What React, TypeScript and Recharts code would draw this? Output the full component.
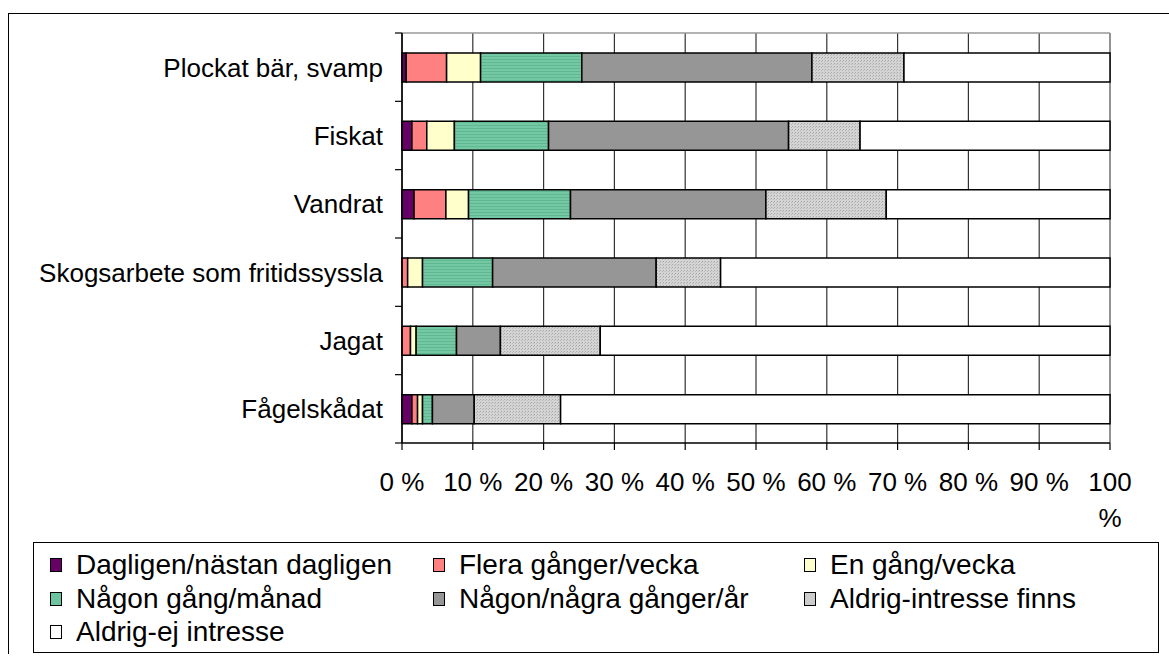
import React from 'react';
import { BarChart, Bar, XAxis, YAxis, CartesianGrid } from 'recharts';

const CATEGORIES = [
  'Plockat bär, svamp',
  'Fiskat',
  'Vandrat',
  'Skogsarbete som fritidssyssla',
  'Jagat',
  'Fågelskådat',
];

const DAGLIGEN = [0.6, 1.4, 1.7, 0, 0, 1.4];
const FLERA_VECKA = [5.7, 2.1, 4.5, 0.8, 1.2, 0.8];
const EN_VECKA = [4.8, 3.9, 3.2, 2.1, 0.8, 0.7];
const NAGON_MANAD = [14.3, 13.3, 14.4, 9.9, 5.7, 1.4];
const NAGON_AR = [32.5, 33.9, 27.6, 23.1, 6.2, 5.9];
const INTRESSE_FINNS = [13.0, 10.1, 17.0, 9.1, 14.1, 12.2];
const EJ_INTRESSE = [29.1, 35.3, 31.6, 55.0, 72.0, 77.6];

const X_TICKS = [0, 10, 20, 30, 40, 50, 60, 70, 80, 90, 100];

const SERIES = [
  { key: 'd', name: 'Dagligen/nästan dagligen', values: DAGLIGEN, fill: '#660066', swatch: '#660066' },
  { key: 'f', name: 'Flera gånger/vecka', values: FLERA_VECKA, fill: '#FF8080', swatch: '#FF8080' },
  { key: 'e', name: 'En gång/vecka', values: EN_VECKA, fill: '#FFFFCC', swatch: '#FFFFCC' },
  { key: 'm', name: 'Någon gång/månad', values: NAGON_MANAD, fill: 'url(#stripes)', swatch: '#6CC5A0' },
  { key: 'a', name: 'Någon/några gånger/år', values: NAGON_AR, fill: '#969696', swatch: '#969696' },
  { key: 'i', name: 'Aldrig-intresse finns', values: INTRESSE_FINNS, fill: 'url(#dots)', swatch: '#CCCCCC' },
  { key: 'n', name: 'Aldrig-ej intresse', values: EJ_INTRESSE, fill: '#FFFFFF', swatch: '#FFFFFF' },
];

const data = CATEGORIES.map((name, i) => {
  const row: Record<string, string | number> = { name };
  SERIES.forEach(s => { row[s.key] = s.values[i]; });
  return row;
});

const FONT = '"Liberation Sans", Arial, sans-serif';
const PLOT_LEFT = 402;
const PLOT_TOP = 33;
const PLOT_BOTTOM = 443;
const PLOT_RIGHT = 1110;
const BAND = (PLOT_BOTTOM - PLOT_TOP) / CATEGORIES.length;
const LABEL_SIZE = 26;

const CategoryTick = (props: any) => {
  const { y, payload, index } = props;
  return (
    <g>
      <line x1={PLOT_LEFT - 7} x2={PLOT_LEFT} y1={y - BAND / 2} y2={y - BAND / 2} stroke="#000" strokeWidth={1.2} />
      {index === CATEGORIES.length - 1 && (
        <line x1={PLOT_LEFT - 7} x2={PLOT_LEFT} y1={y + BAND / 2} y2={y + BAND / 2} stroke="#000" strokeWidth={1.2} />
      )}
      <text x={PLOT_LEFT - 19} y={y} dy="0.36em" textAnchor="end" fill="#000" fontSize={LABEL_SIZE} fontFamily={FONT}>
        {payload.value}
      </text>
    </g>
  );
};

const PercentTick = (props: any) => {
  const { x, payload } = props;
  const v = payload.value;
  const baseY = PLOT_BOTTOM + 48;
  return (
    <g>
      <line x1={x} x2={x} y1={PLOT_BOTTOM} y2={PLOT_BOTTOM + 7} stroke="#000" strokeWidth={1.2} />
      {v === 100 ? (
        <text textAnchor="middle" fill="#000" fontSize={LABEL_SIZE} fontFamily={FONT}>
          <tspan x={x} y={baseY}>100</tspan>
          <tspan x={x} y={baseY + 36}>%</tspan>
        </text>
      ) : (
        <text x={x} y={baseY} textAnchor="middle" fill="#000" fontSize={LABEL_SIZE} fontFamily={FONT}>
          {`${v} %`}
        </text>
      )}
    </g>
  );
};

const LegendBox = () => (
  <div style={{
    position: 'absolute', left: 33, top: 542, width: 1124, height: 109,
    border: '1px solid #000', fontFamily: FONT, fontSize: 28, color: '#000',
  }}>
    {SERIES.map((s, i) => {
      const col = i % 3;
      const row = Math.floor(i / 3);
      const left = [16, 399, 770][col];
      return (
        <div key={s.key} style={{ position: 'absolute', left, top: 7 + row * 33.5, height: 30, lineHeight: '30px', display: 'flex', alignItems: 'center', whiteSpace: 'nowrap' }}>
          <span style={{ width: 10, height: 12, background: s.swatch, border: '1px solid #000', display: 'inline-block', marginRight: 14 }} />
          <span>{s.name}</span>
        </div>
      );
    })}
  </div>
);

export default function App() {
  return (
    <div style={{ position: 'absolute', left: 0, top: 0, width: 1169, height: 663, overflow: 'hidden', background: '#fff' }}>
      <div style={{ position: 'absolute', left: 8, top: 13, width: 1170, height: 640, borderLeft: '1.5px solid #000', borderTop: '1.5px solid #000' }} />
      <div style={{ position: 'absolute', left: 0, top: 0 }}>
        <BarChart
          width={1169}
          height={540}
          data={data}
          layout="vertical"
          margin={{ top: PLOT_TOP, right: 1169 - PLOT_RIGHT, bottom: 0, left: 0 }}
          barSize={29}
        >
          <defs>
            <pattern id="stripes" width="4" height="3" patternUnits="userSpaceOnUse">
              <rect width="4" height="3" fill="#74C9A4" />
              <rect y="2" width="4" height="1" fill="#5FB891" />
            </pattern>
            <pattern id="dots" width="3" height="3" patternUnits="userSpaceOnUse">
              <rect width="3" height="3" fill="#D4D4D4" />
              <rect x="0" y="0" width="1" height="1" fill="#A8A8A8" />
              <rect x="2" y="1" width="1" height="1" fill="#B8B8B8" />
            </pattern>
          </defs>
          <CartesianGrid horizontal={false} stroke="#333" strokeWidth={1.2} />
          <CartesianGrid vertical={false} horizontalPoints={[PLOT_TOP]} stroke="#999" strokeWidth={1.5} />
          <CartesianGrid horizontal={false} verticalPoints={[PLOT_RIGHT]} stroke="#999" strokeWidth={1.5} />
          <XAxis
            type="number"
            domain={[0, 100]}
            ticks={X_TICKS}
            interval={0}
            height={97}
            axisLine={{ stroke: '#000', strokeWidth: 1.5 }}
            tickLine={false}
            tick={<PercentTick />}
          />
          <YAxis
            type="category"
            dataKey="name"
            width={PLOT_LEFT}
            axisLine={{ stroke: '#000', strokeWidth: 1.5 }}
            tickLine={false}
            tick={<CategoryTick />}
            interval={0}
          />
          {SERIES.map(s => (
            <Bar
              key={s.key}
              dataKey={s.key}
              name={s.name}
              stackId="a"
              fill={s.fill}
              stroke="#000"
              strokeWidth={1.5}
              isAnimationActive={false}
            />
          ))}
        </BarChart>
      </div>
      <LegendBox />
    </div>
  );
}
